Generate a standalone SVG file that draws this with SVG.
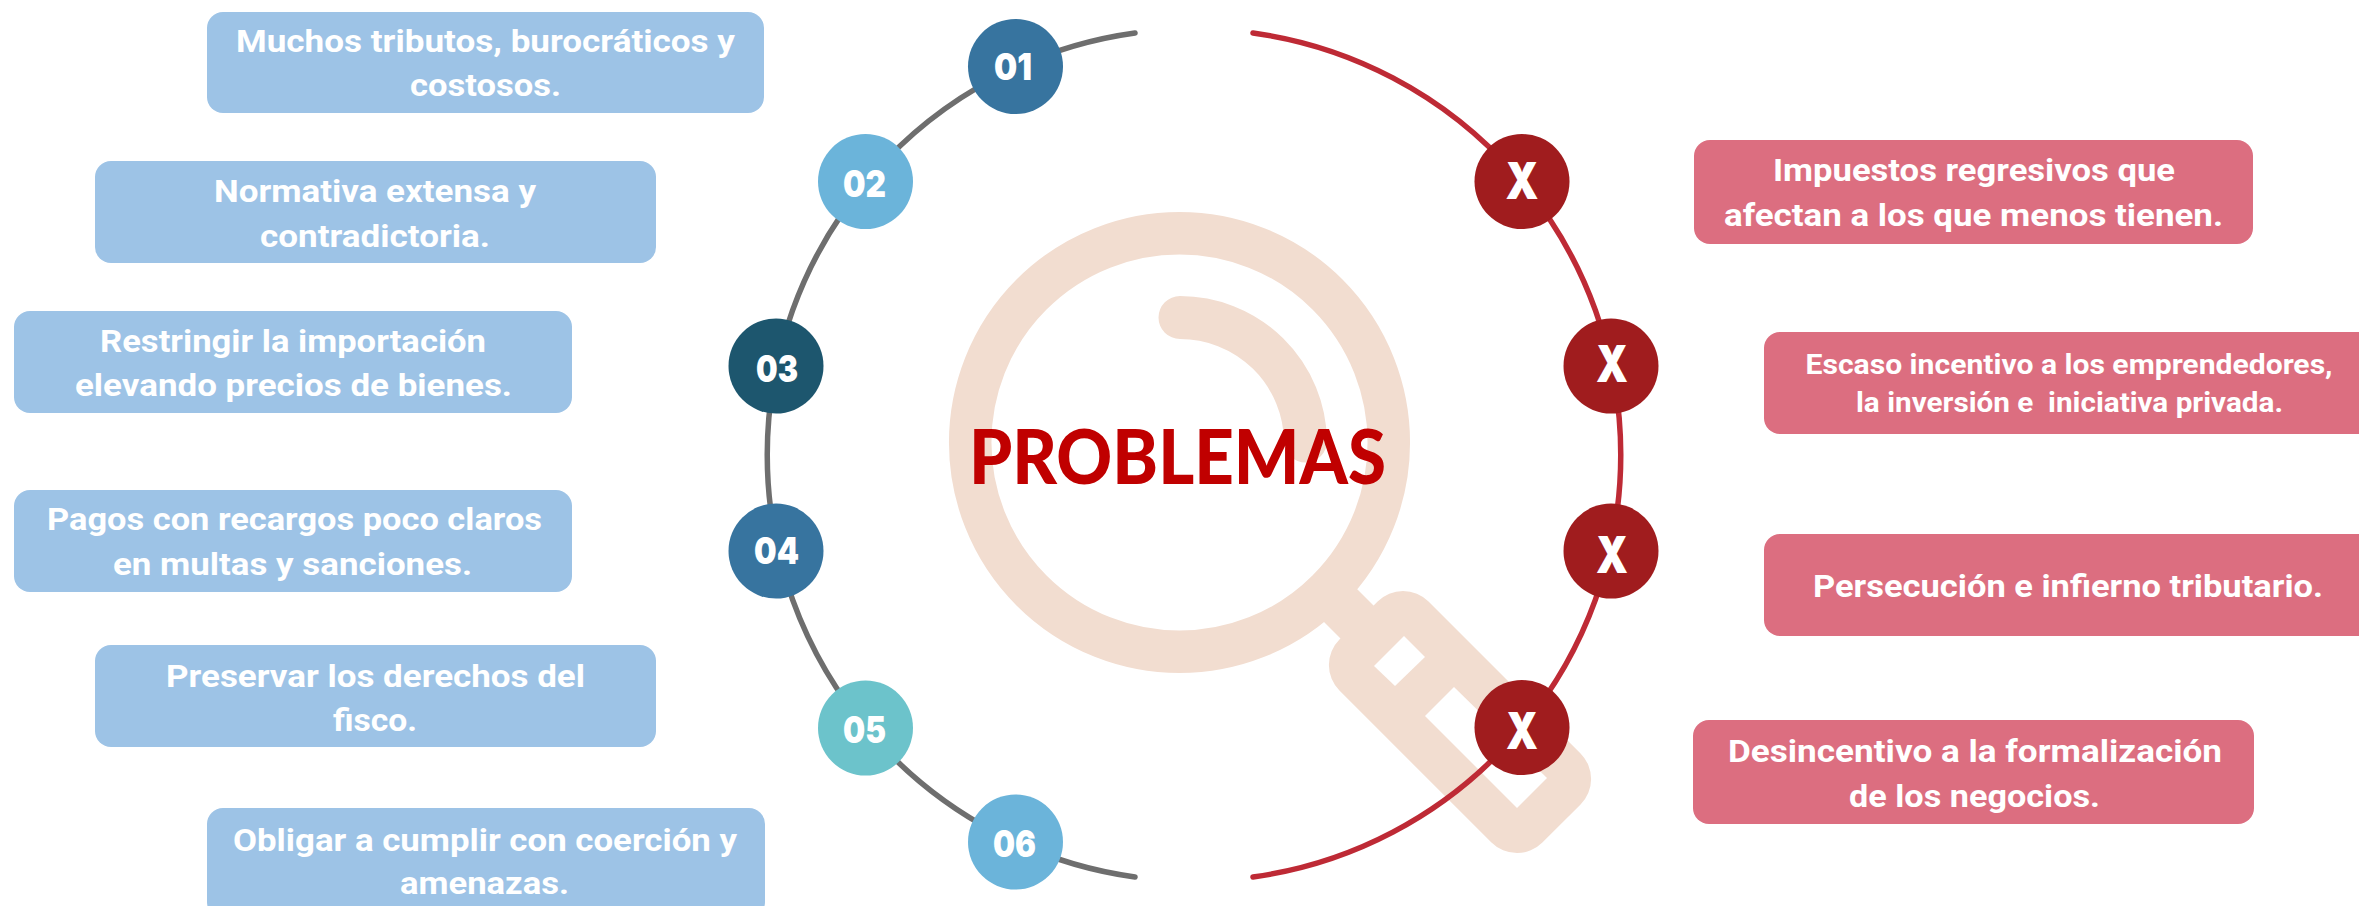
<svg xmlns="http://www.w3.org/2000/svg" width="2359" height="906" viewBox="0 0 2359 906">
<style>
.mag{fill:#f2ddd0}
.ln{fill:none;stroke-width:5.5;stroke-linecap:round}
.lb{fill:#fff;font-family:"Roboto","Liberation Sans",sans-serif;font-weight:700;text-anchor:middle}
.l{fill:#9dc3e6}
.r{fill:#dc6e80}
.n{fill:#fff;font-family:"Inter","Liberation Sans",sans-serif;font-weight:900;font-size:37px;text-anchor:middle}
.x{fill:#fff;font-family:"Inter","Liberation Sans",sans-serif;font-weight:900;font-size:51px;text-anchor:middle}
.c3{fill:#a01c1e}
</style>
<rect width="2359" height="906" fill="#fff"/>
<g id="magnifier">
<circle cx="1179.5" cy="442.5" r="209.3" fill="none" stroke="#f2ddd0" stroke-width="42.5"/>
<path d="M1180 317.5A125.5 125.5 0 0 1 1305.500 441" fill="none" stroke="#f2ddd0" stroke-width="43" stroke-linecap="round"/>
<polygon class="mag" points="1350,582 1385,617 1352,650 1317,615"/>
<rect x="1316.500" y="659" width="287" height="126" rx="36" class="mag" transform="rotate(45 1460 722)"/>
<polygon points="1404,636 1425,657 1395,686 1374,666" fill="#fff"/>
<polygon points="1454,687 1547,778 1517,808 1425,716" fill="#fff"/>
</g>
<g id="connectors">
<path class="ln" stroke="#6e6e6e" d="M1135 33A426 426 0 0 0 1135 877"/>
<path class="ln" stroke="#be2a35" d="M1253 33A426 426 0 0 1 1253 877"/>
</g>
<g id="title"><text x="1177.500" y="484" fill="#c00000" font-family="Lato,'Liberation Sans',sans-serif" font-weight="900" font-size="76" text-anchor="middle" textLength="417" lengthAdjust="spacingAndGlyphs">PROBLEMAS</text></g>
<g id="n01"><circle cx="1015.500" cy="66.500" r="47.500" fill="#37749f"/><text class="n" x="1013" y="80" textLength="38" lengthAdjust="spacingAndGlyphs">01</text></g>
<g id="n02"><circle cx="865.500" cy="181.500" r="47.500" fill="#6bb4da"/><text class="n" x="864.500" y="197" textLength="43" lengthAdjust="spacingAndGlyphs">02</text></g>
<g id="n03"><circle cx="776" cy="366" r="47.500" fill="#1d566e"/><text class="n" x="777" y="382" textLength="42" lengthAdjust="spacingAndGlyphs">03</text></g>
<g id="n04"><circle cx="776" cy="551" r="47.500" fill="#37749f"/><text class="n" x="776.500" y="564" textLength="45" lengthAdjust="spacingAndGlyphs">04</text></g>
<g id="n05"><circle cx="865.500" cy="728" r="47.500" fill="#6cc3cb"/><text class="n" x="864.500" y="743" textLength="43" lengthAdjust="spacingAndGlyphs">05</text></g>
<g id="n06"><circle cx="1015.500" cy="842" r="47.500" fill="#6bb4da"/><text class="n" x="1014.500" y="857" textLength="43" lengthAdjust="spacingAndGlyphs">06</text></g>
<g id="x1"><circle class="c3" cx="1522" cy="181.500" r="47.500"/><text class="x" x="1522" y="199" textLength="33" lengthAdjust="spacingAndGlyphs">X</text></g>
<g id="x2"><circle class="c3" cx="1611" cy="366" r="47.500"/><text class="x" x="1612" y="382" textLength="32" lengthAdjust="spacingAndGlyphs">X</text></g>
<g id="x3"><circle class="c3" cx="1611" cy="551" r="47.500"/><text class="x" x="1612" y="573" textLength="32" lengthAdjust="spacingAndGlyphs">X</text></g>
<g id="x4"><circle class="c3" cx="1522" cy="727.500" r="47.500"/><text class="x" x="1522" y="749" textLength="32" lengthAdjust="spacingAndGlyphs">X</text></g>
<g id="b1"><rect class="l" x="207" y="12" width="557" height="101" rx="16"/><text class="lb" font-size="32" x="485.500" y="52" textLength="499" lengthAdjust="spacingAndGlyphs">Muchos tributos, burocráticos y</text><text class="lb" font-size="32" x="485.500" y="96" textLength="151" lengthAdjust="spacingAndGlyphs">costosos.</text></g>
<g id="b2"><rect class="l" x="95" y="161" width="561" height="102" rx="16"/><text class="lb" font-size="32" x="375" y="202" textLength="322" lengthAdjust="spacingAndGlyphs">Normativa extensa y</text><text class="lb" font-size="32" x="375" y="247" textLength="230" lengthAdjust="spacingAndGlyphs">contradictoria.</text></g>
<g id="b3"><rect class="l" x="14" y="311" width="558" height="102" rx="16"/><text class="lb" font-size="32" x="293" y="352" textLength="386" lengthAdjust="spacingAndGlyphs">Restringir la importación</text><text class="lb" font-size="32" x="293.500" y="396" textLength="437" lengthAdjust="spacingAndGlyphs">elevando precios de bienes.</text></g>
<g id="b4"><rect class="l" x="14" y="490" width="558" height="102" rx="16"/><text class="lb" font-size="32" x="294.500" y="530" textLength="495" lengthAdjust="spacingAndGlyphs">Pagos con recargos poco claros</text><text class="lb" font-size="32" x="292.500" y="575" textLength="359" lengthAdjust="spacingAndGlyphs">en multas y sanciones.</text></g>
<g id="b5"><rect class="l" x="95" y="645" width="561" height="102" rx="16"/><text class="lb" font-size="32" x="375.500" y="687" textLength="419" lengthAdjust="spacingAndGlyphs">Preservar los derechos del</text><text class="lb" font-size="32" x="375" y="731" textLength="84" lengthAdjust="spacingAndGlyphs">fisco.</text></g>
<g id="b6"><rect class="l" x="207" y="808" width="558" height="110" rx="16"/><text class="lb" font-size="32" x="485" y="851" textLength="504" lengthAdjust="spacingAndGlyphs">Obligar a cumplir con coerción y</text><text class="lb" font-size="32" x="484.500" y="894" textLength="169" lengthAdjust="spacingAndGlyphs">amenazas.</text></g>
<g id="r1"><rect class="r" x="1694" y="140" width="559" height="104" rx="16"/><text class="lb" font-size="32" x="1974" y="181" textLength="402" lengthAdjust="spacingAndGlyphs">Impuestos regresivos que</text><text class="lb" font-size="32" x="1973.500" y="226" textLength="499" lengthAdjust="spacingAndGlyphs">afectan a los que menos tienen.</text></g>
<g id="r2"><rect class="r" x="1764" y="332" width="610" height="102" rx="16"/><text class="lb" font-size="28" x="2069" y="374" textLength="527" lengthAdjust="spacingAndGlyphs">Escaso incentivo a los emprendedores,</text><text class="lb" font-size="28" x="2069.500" y="412" textLength="427" lengthAdjust="spacingAndGlyphs" style="white-space:pre">la inversión e  iniciativa privada.</text></g>
<g id="r3"><rect class="r" x="1764" y="534" width="610" height="102" rx="16"/><text class="lb" font-size="32" x="2068" y="597" textLength="510" lengthAdjust="spacingAndGlyphs">Persecución e infierno tributario.</text></g>
<g id="r4"><rect class="r" x="1693" y="720" width="561" height="104" rx="16"/><text class="lb" font-size="32" x="1975" y="762" textLength="494" lengthAdjust="spacingAndGlyphs">Desincentivo a la formalización</text><text class="lb" font-size="32" x="1974.500" y="807" textLength="251" lengthAdjust="spacingAndGlyphs">de los negocios.</text></g>
</svg>
